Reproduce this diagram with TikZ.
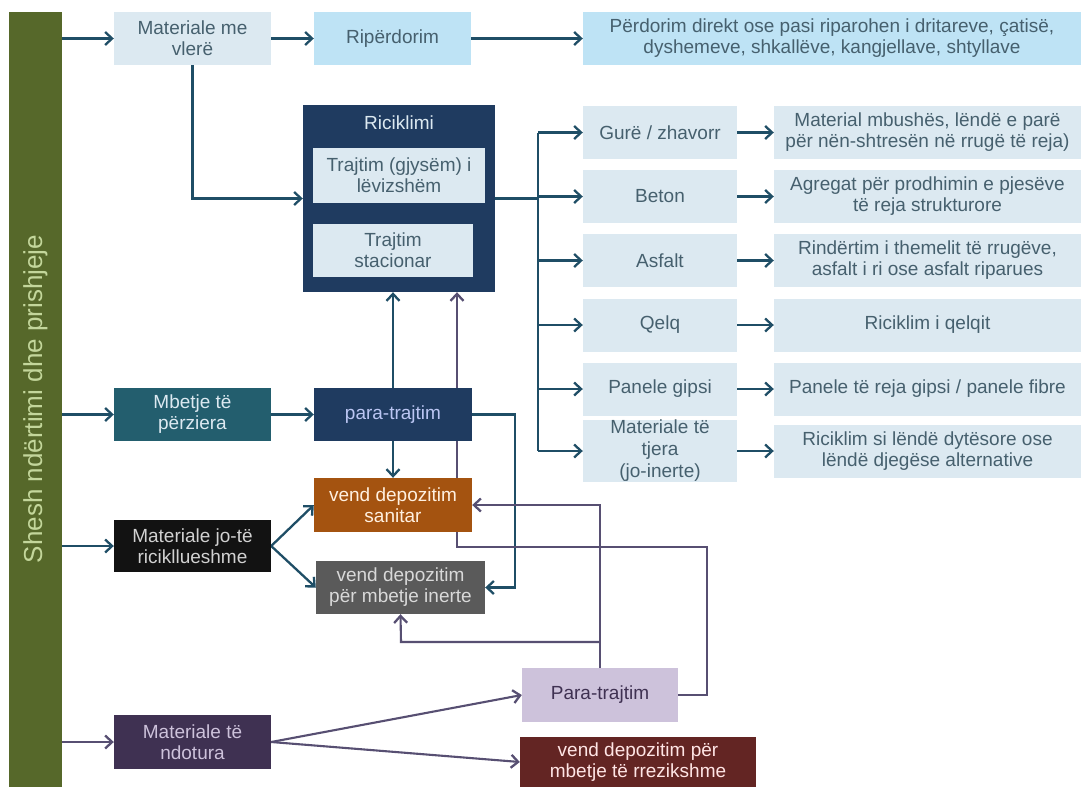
\documentclass[tikz,border=0pt]{standalone}
\usepackage{fontspec}
\setmainfont{Liberation Sans}
\usetikzlibrary{arrows.meta,backgrounds,calc}
\definecolor{barol}{HTML}{56682A}
\definecolor{bartext}{HTML}{C3D69B}
\definecolor{lightbox}{HTML}{DCE9F1}
\definecolor{lighttext}{HTML}{46606E}
\definecolor{skybox}{HTML}{BEE3F5}
\definecolor{navy}{HTML}{1F3B60}
\definecolor{tealbox}{HTML}{235E6E}
\definecolor{sanorange}{HTML}{A45310}
\definecolor{inertgray}{HTML}{5A5A5A}
\definecolor{ndpurple}{HTML}{3F3152}
\definecolor{lav}{HTML}{CDC2DB}
\definecolor{rrred}{HTML}{632523}
\definecolor{conteal}{HTML}{1F4E66}
\definecolor{conpurp}{HTML}{574F72}
\tikzset{
  box/.style={rectangle, inner sep=0pt, align=center, font=\fontsize{19}{21}\selectfont},
  lbox/.style={box, fill=lightbox, text=lighttext},
  sbox/.style={box, fill=skybox, text=lighttext},
  lcol/.style={lbox, minimum width=154pt, minimum height=53pt},
  rcol/.style={lbox, minimum width=307pt, minimum height=53pt},
  std/.style={minimum width=157pt, minimum height=53pt},
  con/.style={line width=2.3pt, draw=conteal},
  tip/.style={-{Straight Barb[length=7pt,width=13pt,line width=2.3pt]}},
  arr/.style={con, tip},
  pcon/.style={line width=2.1pt, draw=conpurp},
  parr/.style={pcon, tip},
}
\begin{document}
\begin{tikzpicture}[x=1pt,y=-1pt]
\useasboundingbox (0,0) rectangle (1081,787);
% left bar
\node[fill=barol, minimum width=53pt, minimum height=775pt, inner sep=0pt] (bar) at (35.5,399.5) {};
\node[rotate=90, text=bartext, inner sep=0pt, font=\fontsize{26}{28}\selectfont] (bartxt) at (35.5,399) {Shesh ndërtimi dhe prishjeje};
% top row
\node[lbox, std] (mv) at (192.5,38.5) {Materiale me\\vlerë};
\node[sbox, std] (rip) at (392.5,38.5) {Ripërdorim};
\node[sbox, minimum width=498pt, minimum height=53pt] (perd) at (832,38.5) {Përdorim direkt ose pasi riparohen i dritareve, çatisë,\\dyshemeve, shkallëve, kangjellave, shtyllave};
% recycling block
\node[fill=navy, minimum width=192pt, minimum height=187pt, inner sep=0pt] (ric) at (399,198.5) {};
\node[box, text=lightbox] (rictitle) at (399,123) {Riciklimi};
\node[lbox, minimum width=172pt, minimum height=55pt] (tg) at (399,175.5) {Trajtim (gjysëm) i\\lëvizshëm};
\node[lbox, minimum width=160pt, minimum height=53pt] (ts) at (393,250.5) {Trajtim\\stacionar};
% material columns
\node[lcol] (g1) at (660,132.5) {Gurë / zhavorr};
\node[lcol] (g2) at (660,196.5) {Beton};
\node[lcol] (g3) at (660,260.5) {Asfalt};
\node[lcol] (g4) at (660,325) {Qelq};
\node[lcol] (g5) at (660,389) {Panele gipsi};
\node[lcol, font=\fontsize{19}{22}\selectfont] (g6) at (660,451) {Materiale të\\tjera\\(jo-inerte)};
\node[rcol] (r1) at (927.5,132.5) {Material mbushës, lëndë e parë\\për nën-shtresën në rrugë të reja)};
\node[rcol] (r2) at (927.5,196.5) {Agregat për prodhimin e pjesëve\\të reja strukturore};
\node[rcol] (r3) at (927.5,260.5) {Rindërtim i themelit të rrugëve,\\asfalt i ri ose asfalt riparues};
\node[rcol] (r4) at (927.5,325) {Riciklim i qelqit};
\node[rcol] (r5) at (927.5,389) {Panele të reja gipsi / panele fibre};
\node[rcol] (r6) at (927.5,451) {Riciklim si lëndë dytësore ose\\lëndë djegëse alternative};
% middle
\node[box, std, fill=tealbox, text=lightbox] (mb) at (192.5,414.5) {Mbetje të\\përziera};
\node[box, minimum width=158pt, minimum height=53pt, fill=navy, text=lightbox!85!blue] (pt) at (393,414.5) {para-trajtim};
\node[box, minimum width=158pt, minimum height=54pt, fill=sanorange, text=orange!12] (san) at (393,505) {vend depozitim\\sanitar};
\node[box, std, minimum height=52pt, fill=black!93, text=black!18] (jo) at (192.5,546) {Materiale jo-të\\ricikllueshme};
\node[box, minimum width=169pt, minimum height=53pt, fill=inertgray, text=black!15] (in) at (400.5,587.5) {vend depozitim\\për mbetje inerte};
\node[box, std, minimum height=54pt, fill=ndpurple, text=lav] (nd) at (192.5,742) {Materiale të\\ndotura};
\node[box, minimum width=156pt, minimum height=54pt, fill=lav, text=ndpurple] (pt2) at (600,695) {Para-trajtim};
\node[box, minimum width=236pt, minimum height=50pt, fill=rrred, text=red!10] (rr) at (638,762) {vend depozitim për\\mbetje të rrezikshme};
% helper coordinates
\coordinate (busx) at (538,0);
\coordinate (c1) at (457,547);
\coordinate (c2) at (401,642);
\begin{pgfonlayer}{background}
\fill[white] (0,0) rectangle (1081,787);
% bar arrows
\draw[arr] (bar.east |- mv.west) -- (mv.west);
\draw[arr] (bar.east |- mb.west) -- (mb.west);
\draw[arr] (bar.east |- jo.west) -- (jo.west);
\draw[parr] (bar.east |- nd.west) -- (nd.west);
% top
\draw[arr] (mv) -- (rip);
\draw[arr] (rip) -- (perd);
\draw[arr] (mv.south) |- (ric.west);
% bus
\draw[con] (ric.east) -- (ric.east -| busx);
\draw[con] (busx |- g1) -- (busx |- g6);
\foreach \i in {1,...,6}{
  \draw[arr] (busx |- g\i) -- (g\i.west);
  \draw[arr] (g\i.east) -- (r\i.west);
}
% middle
\draw[arr] (mb) -- (pt);
\draw[arr] (pt.north) -- (pt.north |- ric.south);
\draw[arr] (pt.south) -- (san.north);
\draw[arr] (pt.east) -- ++(43,0) |- (in.east);
\draw[arr] (jo.east) -- (san.west);
\draw[arr] (jo.east) -- (in.west);
% lower pre-treatment
\draw[parr] (pt2.north) |- (san.east);
\draw[parr] (pt2.north |- c2) -- (c2) -- (in.south);
\draw[parr] (pt2.east) -- ++(29,0) |- (c1) -- (c1 |- ric.south);
\draw[parr] (nd.east) -- (pt2.west);
\draw[parr] (nd.east) -- (rr.west);
\end{pgfonlayer}
\end{tikzpicture}
\end{document}
